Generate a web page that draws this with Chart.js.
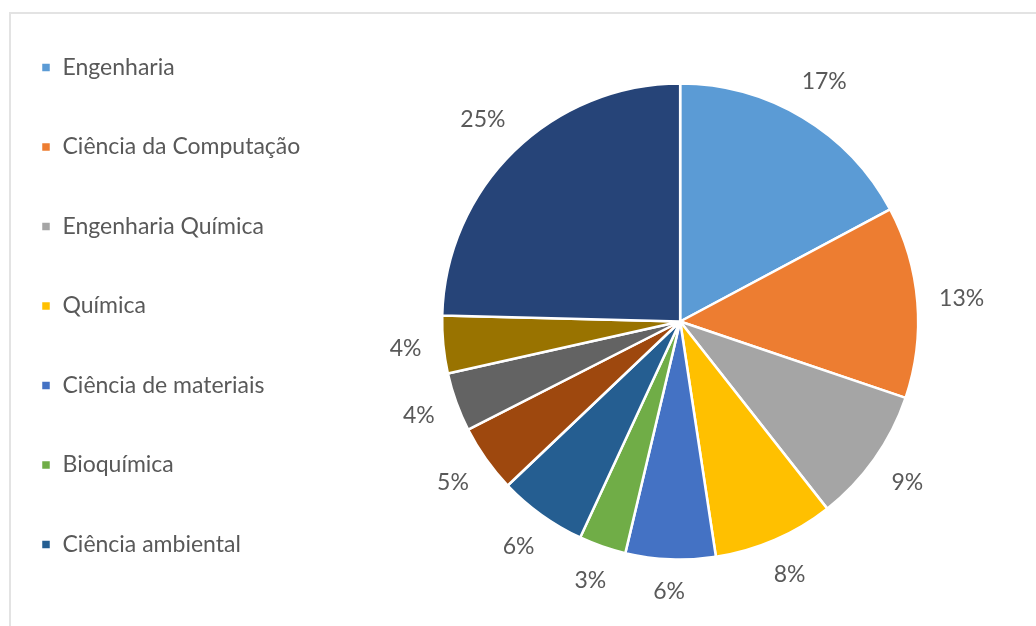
<!DOCTYPE html>
<html>
<head>
<meta charset="utf-8">
<script src="https://cdn.jsdelivr.net/npm/chart.js@4.4.1/dist/chart.umd.min.js"></script>
<style>
  html, body { margin: 0; padding: 0; background: #fff; overflow: hidden; }
  body { width: 1036px; height: 626px; position: relative; }
  #frame { position: absolute; left: 9px; top: 12px; right: -5px; bottom: -5px;
           border-left: 2px solid #e3e3e3; border-top: 2px solid #e3e3e3; }
  #wrap { position: absolute; left: -16px; top: -1.5px; width: 1072px; height: 645px; }
</style>
</head>
<body>
<div id="frame"></div>
<div id="wrap"><canvas id="pie"></canvas></div>
<script>
// categories (the last four are not named in the source legend, it was cut off)
var areas = ['Engenharia', 'Ciência da Computação', 'Engenharia Química', 'Química',
             'Ciência de materiais', 'Bioquímica', 'Ciência ambiental', '', '', '', ''];
// share of each area, in % (labels are rounded)
var shares = [17.2, 13.0, 9.2, 8.2, 6.1, 3.2, 6.0, 4.6, 4.0, 3.9, 24.6];
var colors = ['#5B9BD5', '#ED7D31', '#A5A5A5', '#FFC000', '#4472C4', '#70AD47',
              '#255E91', '#9E480E', '#636363', '#997300', '#264478'];
var shownInLegend = 7;

var txtColor = '#595959';
var txtFont = {family: 'Lato', size: 23};

// percent labels outside each slice, like Excel's outside end
var outsideLabels = {
  id: 'outsideLabels',
  afterDatasetsDraw: function(chart) {
    var ctx = chart.ctx;
    var meta = chart.getDatasetMeta(0);
    var data = chart.data.datasets[0].data;
    var total = data.reduce(function(a, b) { return a + b; }, 0);
    ctx.save();
    ctx.fillStyle = txtColor;
    ctx.font = txtFont.size + 'px ' + txtFont.family;
    ctx.textAlign = 'center';
    ctx.textBaseline = 'middle';
    meta.data.forEach(function(arc, i) {
      var p = arc.getProps(['x', 'y', 'startAngle', 'endAngle', 'outerRadius'], true);
      var mid = (p.startAngle + p.endAngle) / 2;
      var txt = Math.round(data[i] / total * 100) + '%';
      var w = ctx.measureText(txt).width;
      var r = p.outerRadius + 21 + w / 2 * Math.abs(Math.cos(mid)) + 11 * Math.abs(Math.sin(mid));
      ctx.fillText(txt, p.x + Math.cos(mid) * r, p.y + Math.sin(mid) * r);
    });
    ctx.restore();
  }
};

new Chart(document.getElementById('pie'), {
  type: 'pie',
  data: {
    labels: areas,
    datasets: [{
      data: shares,
      backgroundColor: colors,
      borderColor: '#ffffff',
      borderWidth: 2.5,
      radius: 238
    }]
  },
  options: {
    responsive: true,
    maintainAspectRatio: false,
    animation: false,
    layout: { padding: { top: 0.5, left: 0.5, bottom: 0.5, right: 6 } },
    plugins: {
      tooltip: { enabled: false },
      legend: {
        position: 'left',
        align: 'start',
        labels: {
          boxWidth: 10,
          boxHeight: 10,
          padding: 56.5,
          color: txtColor,
          font: txtFont,
          filter: function(item) { return item.index < shownInLegend; }
        }
      }
    }
  },
  plugins: [outsideLabels]
});
</script>
</body>
</html>
